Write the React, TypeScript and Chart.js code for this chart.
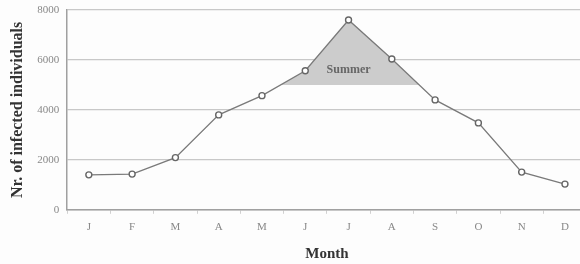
import React, { useEffect, useRef } from "react";
import { Chart, registerables } from "chart.js";

Chart.register(...registerables);

const months = ["J", "F", "M", "A", "M", "J", "J", "A", "S", "O", "N", "D"];
const infected = [1400, 1430, 2090, 3800, 4570, 5570, 7600, 6040, 4400, 3480, 1510, 1030];
const summerBase = 5000;
const summerLabel = "Summer";
const yTitle = "Nr. of infected individuals";
const xTitle = "Month";

const SERIF = "'Liberation Serif', 'DejaVu Serif', serif";

const summerTextPlugin = {
  id: "summerText",
  afterDatasetsDraw(chart: any) {
    const { ctx, scales } = chart;
    const x = scales.x.getPixelForValue(6);
    const y = scales.y.getPixelForValue(5600);
    ctx.save();
    ctx.font = `bold 12px ${SERIF}`;
    ctx.fillStyle = "#666666";
    ctx.textAlign = "center";
    ctx.textBaseline = "middle";
    ctx.fillText(summerLabel, x, y);
    ctx.restore();
  },
};

export default function App() {
  const ref = useRef<HTMLCanvasElement>(null);
  useEffect(() => {
    const chart = new Chart(ref.current!, {
      type: "line",
      data: {
        labels: months,
        datasets: [
          {
            data: infected,
            borderColor: "#7a7a7a",
            borderWidth: 1.3,
            pointRadius: 3,
            pointBackgroundColor: "#ffffff",
            pointBorderColor: "#666666",
            pointBorderWidth: 1.4,
            tension: 0,
            fill: { target: { value: summerBase }, above: "rgba(204,204,204,1)", below: "rgba(0,0,0,0)" },
          },
        ],
      },
      options: {
        animation: false,
        responsive: false,
        maintainAspectRatio: false,
        layout: { padding: { top: 10, right: 0, left: 8, bottom: 1 } },
        plugins: { legend: { display: false }, tooltip: { enabled: false } },
        scales: {
          x: {
            offset: true,
            grid: { drawOnChartArea: false, drawTicks: true, tickLength: 4, offset: true, color: "#d0d0d0" },
            border: { color: "#a0a0a0", width: 1.5 },
            ticks: { color: "#888888", font: { family: SERIF, size: 11 }, padding: 7 },
            title: { display: true, text: xTitle, color: "#333333", font: { family: SERIF, size: 15, weight: "bold" }, padding: { top: 4, bottom: 0 } },
          },
          y: {
            min: 0,
            max: 8000,
            afterFit: (scale: any) => {
              scale.paddingTop = 0;
            },
            ticks: { stepSize: 2000, color: "#888888", font: { family: SERIF, size: 11 }, padding: 8, callback: (v: any) => String(v) },
            grid: { color: "#c8c8c8", lineWidth: 1.3, drawTicks: false },
            border: { color: "#a0a0a0", width: 1.5 },
            title: { display: true, text: yTitle, color: "#333333", font: { family: SERIF, size: 16, weight: "bold" }, padding: { top: 0, bottom: 2 } },
          },
        },
      },
      plugins: [summerTextPlugin],
    });
    return () => chart.destroy();
  }, []);
  return (
    <div style={{ position: "fixed", left: 0, top: 0, width: 580, height: 264, background: "#fdfdfd", overflow: "hidden" }}>
      <canvas ref={ref} width={592} height={264} />
    </div>
  );
}
